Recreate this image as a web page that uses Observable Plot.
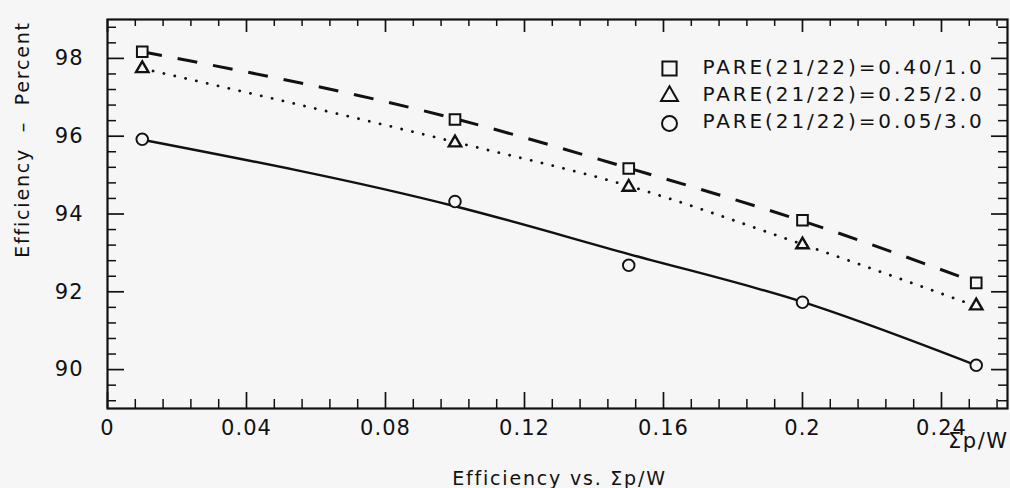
<!DOCTYPE html>
<html>
<head>
<meta charset="utf-8">
<script src="https://cdn.jsdelivr.net/npm/d3@7"></script>
<script src="https://cdn.jsdelivr.net/npm/@observablehq/plot@0.6"></script>
<style>
  html, body { margin: 0; padding: 0; background: #f6f6f6; }
  #chart { width: 1010px; height: 488px; }
</style>
</head>
<body>
<div id="chart"></div>
<script>
// Efficiency (%) against Σp/W for three PARE(21/22) settings
const sigmaPW = [0.01, 0.10, 0.15, 0.20, 0.25];

// measured points
const effSquare   = [98.17, 96.43, 95.17, 93.84, 92.23]; // PARE 0.40/1.0
const effTriangle = [97.74, 95.83, 94.69, 93.21, 91.64]; // PARE 0.25/2.0
const effCircle   = [95.92, 94.32, 92.68, 91.73, 90.11]; // PARE 0.05/3.0

// fitted curves at the same abscissas
const fitSquare   = [98.17, 96.45, 95.18, 93.82, 92.24];
const fitTriangle = [97.74, 95.85, 94.72, 93.22, 91.63];
const fitCircle   = [95.91, 94.20, 92.97, 91.74, 90.11];

const seriesNames = ["PARE(21/22)=0.40/1.0", "PARE(21/22)=0.25/2.0", "PARE(21/22)=0.05/3.0"];

// axis ticks and labels
const xTickValues = [0, 0.04, 0.08, 0.12, 0.16, 0.20, 0.24];
const xTickLabels = ["0", "0.04", "0.08", "0.12", "0.16", "0.2", "0.24"];
const yTickValues = [90, 92, 94, 96, 98];
const yTickLabels = ["90", "92", "94", "96", "98"];
const xAxisName = "Σp/W";
const yAxisName = "Efficiency  –  Percent";
const caption = "Efficiency vs. Σp/W";

const xMinor = d3.range(0, 33).filter(i => i % 5 !== 0).map(i => i * 0.008);
const yMinor = d3.range(-2, 23).filter(k => k % 5 !== 0).map(k => 90 + k * 0.4);

const W = 1010, H = 488, mL = 107, mR = 3, mT = 19, mB = 80;
const FW = W - mL - mR, FH = H - mT - mB;
const BG = "#f6f6f6";
const INK = "#111";

const styles = [
  {symbol: "square",   r: 6,   rLeg: 8,   sw: 2.0, dash: "20,16",  lw: 3.0, cap: "butt"},
  {symbol: "triangle", r: 4.6, rLeg: 6.3, sw: 2.4, dash: "0.1,11", lw: 2.8, cap: "round"},
  {symbol: "circle",   r: 5.8, rLeg: 7.5, sw: 1.9, dash: null,     lw: 2.4, cap: "butt"}
];
const pointSets = [effSquare, effTriangle, effCircle];
const fitSets = [fitSquare, fitTriangle, fitCircle];

const marks = [];

// inward ticks on all four sides
const tick = (vals, dir, len, sw) => {
  if (dir === "bottom") return Plot.tickX(vals, {x: d => d, insetTop: FH - len, stroke: INK, strokeWidth: sw});
  if (dir === "top")    return Plot.tickX(vals, {x: d => d, insetBottom: FH - len, stroke: INK, strokeWidth: sw});
  if (dir === "left")   return Plot.tickY(vals, {y: d => d, insetRight: FW - len, stroke: INK, strokeWidth: sw});
  return Plot.tickY(vals, {y: d => d, insetLeft: FW - len, stroke: INK, strokeWidth: sw});
};
marks.push(
  tick(xTickValues, "bottom", 16, 1.7), tick(xMinor, "bottom", 9, 1.5),
  tick(xTickValues, "top", 13, 1.7),    tick(xMinor, "top", 7, 1.5),
  tick(yTickValues, "left", 17, 1.7),   tick(yMinor, "left", 9, 1.5),
  tick(yTickValues, "right", 16, 1.7),  tick(yMinor, "right", 9, 1.5)
);

// fitted curves
fitSets.forEach((fit, s) => {
  const st = styles[s];
  marks.push(Plot.line(sigmaPW.map((x, i) => ({x, y: fit[i]})), {
    x: "x", y: "y", curve: "monotone-x", stroke: INK,
    strokeWidth: st.lw, strokeDasharray: st.dash, strokeLinecap: st.cap
  }));
});

// measured points
pointSets.forEach((vals, s) => {
  const st = styles[s];
  marks.push(Plot.dot(sigmaPW.map((x, i) => ({x, y: vals[i]})), {
    x: "x", y: "y", symbol: st.symbol, r: st.r, stroke: INK, strokeWidth: st.sw, fill: BG
  }));
});

// legend inside the frame
seriesNames.forEach((name, s) => {
  const st = styles[s];
  marks.push(
    Plot.dot([name], {frameAnchor: "top-left", dx: 562, dy: 49 + s * 27.5, symbol: st.symbol, r: st.rLeg,
      stroke: INK, strokeWidth: 2, fill: "none"}),
    Plot.text([name], {frameAnchor: "top-left", dx: 595, dy: 48 + s * 27, text: d => d,
      textAnchor: "start", lineAnchor: "middle", fontSize: 20, fill: INK})
  );
});

marks.push(
  Plot.frame({stroke: INK, strokeWidth: 2.2}),
  Plot.axisX(xTickValues, {tickSize: 0, tickPadding: 12, fontSize: 21, fill: INK, tickFormat: (d, i) => xTickLabels[i], label: null}),
  Plot.axisY(yTickValues, {tickSize: 0, tickPadding: 24, fontSize: 21, fill: INK, tickFormat: (d, i) => yTickLabels[i], label: null}),
  Plot.text([xAxisName], {frameAnchor: "bottom-right", dx: 1, dy: 33, text: d => d, textAnchor: "end",
    lineAnchor: "middle", fontSize: 21, fill: INK}),
  Plot.text([yAxisName], {frameAnchor: "top-left", dx: -85, dy: 120, rotate: -90,
    text: d => d, textAnchor: "middle", lineAnchor: "middle", fontSize: 19, fill: INK}),
  Plot.text([caption], {frameAnchor: "bottom", dx: 2, dy: 70, text: d => d,
    textAnchor: "middle", lineAnchor: "middle", fontSize: 19, fill: INK})
);

const chart = Plot.plot({
  width: W, height: H,
  marginLeft: mL, marginRight: mR, marginTop: mT, marginBottom: mB,
  x: {domain: [0, 0.259]},
  y: {domain: [89, 99]},
  style: {fontFamily: "DejaVu Sans", background: BG, color: INK, overflow: "visible"},
  marks
});

// wide, plotter-style letter spacing for the text
const spacing = new Map([
  ...seriesNames.map(n => [n, "2.9px"]),
  [xAxisName, "1.5px"], [yAxisName, "1.8px"], [caption, "1.8px"]
]);
d3.select(chart).selectAll("text").each(function () {
  const t = this.textContent;
  this.style.letterSpacing = spacing.get(t) ?? "1px";
});
document.getElementById("chart").appendChild(chart);
</script>
</body>
</html>
